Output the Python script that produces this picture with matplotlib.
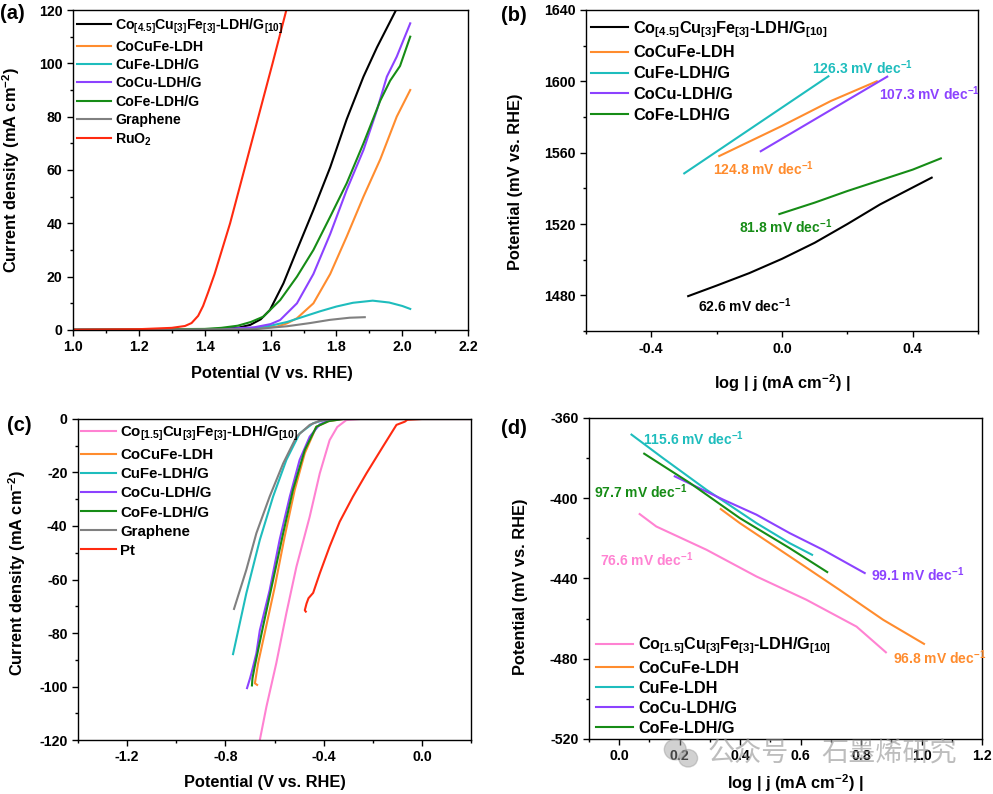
import matplotlib
matplotlib.use("Agg")
import matplotlib.pyplot as plt
from matplotlib.patches import Ellipse
from matplotlib.ticker import MultipleLocator

plt.rcParams["font.family"] = ["Liberation Sans", "DejaVu Sans"]
plt.rcParams["font.weight"] = "bold"
plt.rcParams["axes.labelweight"] = "bold"
plt.rcParams["axes.unicode_minus"] = False
plt.rcParams["mathtext.default"] = "regular"

C_BLACK = "#000000"
C_ORANGE = "#FF8C2E"
C_CYAN = "#1EBDBD"
C_PURPLE = "#8C42FF"
C_GREEN = "#168C16"
C_GRAY = "#808080"
C_RED = "#FF2A10"
C_PINK = "#FF82D2"

LBL_A = r"Co$_{[4.5]}$Cu$_{[3]}$Fe$_{[3]}$-LDH/G$_{[10]}$"
LBL_C = r"Co$_{[1.5]}$Cu$_{[3]}$Fe$_{[3]}$-LDH/G$_{[10]}$"

# ---- (a) OER polarisation curves
a_black_v = [1.0, 1.3, 1.45, 1.50, 1.538, 1.57, 1.598, 1.639, 1.68, 1.73, 1.781, 1.831, 1.882, 1.923, 1.983]
a_black_j = [0.1, 0.2, 0.4, 0.8, 1.9, 4.0, 7.5, 17.5, 30, 45, 61, 79, 95, 106, 120.5]
a_orange_v = [1.0, 1.50, 1.58, 1.619, 1.65, 1.68, 1.73, 1.781, 1.831, 1.882, 1.933, 1.983, 2.024]
a_orange_j = [0.1, 0.3, 0.8, 1.25, 2.5, 4.4, 10, 21, 35, 50, 64, 80, 90]
a_cyan_v = [1.0, 1.50, 1.55, 1.60, 1.65, 1.70, 1.75, 1.80, 1.85, 1.91, 1.96, 2.00, 2.024]
a_cyan_j = [0.1, 0.4, 0.8, 1.6, 3.0, 5.0, 7.0, 8.8, 10.2, 11.0, 10.3, 9.0, 7.9]
a_purple_v = [1.0, 1.45, 1.55, 1.60, 1.629, 1.68, 1.73, 1.781, 1.831, 1.882, 1.923, 1.953, 1.983, 2.024]
a_purple_j = [0.1, 0.3, 1.0, 2.2, 3.75, 10, 21, 36, 52.5, 67.5, 82.5, 95, 102.5, 115]
a_green_v = [1.0, 1.40, 1.45, 1.50, 1.54, 1.578, 1.629, 1.68, 1.73, 1.781, 1.831, 1.882, 1.933, 1.963, 1.993, 2.024]
a_green_j = [0.1, 0.4, 0.8, 1.6, 3.0, 5.0, 11.2, 20, 30, 42.5, 55, 70, 86, 93.5, 99, 110]
a_gray_v = [1.0, 1.55, 1.65, 1.72, 1.78, 1.84, 1.886]
a_gray_j = [0.05, 0.3, 1.4, 2.6, 3.8, 4.6, 4.8]
a_red_v = [1.0, 1.20, 1.30, 1.34, 1.36, 1.38, 1.395, 1.41, 1.43, 1.477, 1.52, 1.563, 1.606, 1.65]
a_red_j = [0.1, 0.3, 0.8, 1.5, 2.6, 5.3, 9.0, 14, 21, 40, 60, 80, 100, 121]

# ---- (b) OER Tafel
b_black_x = [-0.287, -0.2, -0.1, 0.0, 0.1, 0.2, 0.3, 0.4, 0.458]
b_black_y = [1479.6, 1485.5, 1492.5, 1500.5, 1509.5, 1520, 1531, 1540.5, 1546]
b_orange_x = [-0.192, 0.0, 0.15, 0.29]
b_orange_y = [1558.1, 1575, 1589, 1600]
b_cyan_x = [-0.299, 0.142]
b_cyan_y = [1548.4, 1602.8]
b_purple_x = [-0.065, 0.322]
b_purple_y = [1560.8, 1602.6]
b_green_x = [-0.008, 0.1, 0.2, 0.3, 0.4, 0.486]
b_green_y = [1525.6, 1532, 1538.5, 1544.5, 1550.5, 1556.8]
b_slopes = ["62.6", "124.8", "126.3", "107.3", "81.8"]

# ---- (c) HER polarisation curves
c_pink_v = [0.2, -0.25, -0.308, -0.345, -0.376, -0.416, -0.457, -0.511, -0.552, -0.593, -0.633, -0.66]
c_pink_j = [0, 0, -0.4, -3, -7.9, -20.3, -36.5, -55.2, -72.6, -91.3, -107.5, -120]
c_orange_v = [0.2, -0.32, -0.38, -0.43, -0.477, -0.518, -0.559, -0.599, -0.64, -0.667, -0.68, -0.671]
c_orange_j = [0, 0, -0.8, -2.9, -12.8, -26.5, -44, -62.7, -80, -91.3, -98.8, -99.4]
c_cyan_v = [0.2, -0.36, -0.40, -0.443, -0.498, -0.552, -0.606, -0.66, -0.715, -0.769]
c_cyan_j = [0, 0, -0.4, -1.6, -5.4, -15.3, -29, -45.2, -65.2, -87.9]
c_purple_v = [0.2, -0.33, -0.38, -0.416, -0.457, -0.498, -0.538, -0.579, -0.62, -0.66, -0.674, -0.694, -0.70, -0.712]
c_purple_j = [0, 0, -0.5, -2, -6.6, -15.3, -29, -45, -64, -79, -87.6, -95, -97, -100.6]
c_green_v = [0.2, -0.32, -0.38, -0.43, -0.477, -0.525, -0.565, -0.606, -0.647, -0.681, -0.69, -0.692]
c_green_j = [0, 0, -0.8, -2.9, -11.6, -26.5, -42.7, -60.2, -77.6, -92.6, -97, -99.6]
c_gray_v = [0.2, -0.36, -0.389, -0.42, -0.457, -0.511, -0.565, -0.62, -0.674, -0.715, -0.765]
c_gray_j = [0, 0, -0.3, -0.8, -2.2, -6.6, -16.6, -29, -42.7, -56.4, -71]
c_red_v = [0.2, 0.0, -0.06, -0.07, -0.104, -0.159, -0.226, -0.281, -0.335, -0.376, -0.416, -0.443, -0.462, -0.47, -0.477, -0.473]
c_red_j = [0, 0, -0.3, -1, -2.2, -10.3, -20.3, -29, -38.4, -47.7, -57.7, -65, -67, -69, -71.5, -72]

# ---- (d) HER Tafel
d_pink_x = [0.068, 0.123, 0.289, 0.454, 0.619, 0.785, 0.882]
d_pink_y = [-407.9, -414.1, -425.7, -439, -450.6, -464, -476.8]
d_orange_x = [0.336, 0.399, 0.564, 0.729, 0.873, 1.008]
d_orange_y = [-405.4, -412.4, -429, -445.7, -460.6, -472.6]
d_cyan_x = [0.041, 0.145, 0.289, 0.454, 0.564, 0.638]
d_cyan_y = [-368.3, -380, -395.8, -412.4, -422.4, -428.2]
d_purple_x = [0.184, 0.344, 0.454, 0.564, 0.674, 0.812]
d_purple_y = [-389.1, -400.7, -408.2, -417.4, -425.7, -437.3]
d_green_x = [0.083, 0.234, 0.399, 0.564, 0.688]
d_green_y = [-377.8, -392.4, -409.9, -424.9, -436.8]
d_slopes = ["76.6", "96.8", "115.6", "99.1", "97.7"]

LW = 1.5
TICK_FS = 10.2
LABEL_FS = 11.8
NOTE_FS = 10

fig = plt.figure(figsize=(9.93, 7.94), dpi=100)
ax_a = fig.add_axes([0.0735, 0.5844, 0.398, 0.403])
ax_b = fig.add_axes([0.590, 0.583, 0.395, 0.4045])
ax_c = fig.add_axes([0.0785, 0.068, 0.396, 0.4043])
ax_d = fig.add_axes([0.593, 0.0693, 0.396, 0.4043])


def style(ax):
    for s in ax.spines.values():
        s.set_linewidth(1.0)
    ax.tick_params(which="both", direction="out", top=False, right=False, labelsize=TICK_FS, width=1.0)
    ax.tick_params(which="major", length=4)
    ax.tick_params(which="minor", length=2.5)


def tafel_label(ax, x, y, slope, color):
    ax.text(x, y, slope + r" mV dec$^{-1}$", color=color, fontsize=NOTE_FS, fontweight="bold",
            ha="left", va="center")


# (a)
ax_a.plot(a_black_v, a_black_j, color=C_BLACK, lw=LW, label=LBL_A)
ax_a.plot(a_orange_v, a_orange_j, color=C_ORANGE, lw=LW, label="CoCuFe-LDH")
ax_a.plot(a_cyan_v, a_cyan_j, color=C_CYAN, lw=LW, label="CuFe-LDH/G")
ax_a.plot(a_purple_v, a_purple_j, color=C_PURPLE, lw=LW, label="CoCu-LDH/G")
ax_a.plot(a_green_v, a_green_j, color=C_GREEN, lw=LW, label="CoFe-LDH/G")
ax_a.plot(a_gray_v, a_gray_j, color=C_GRAY, lw=LW, label="Graphene")
ax_a.plot(a_red_v, a_red_j, color=C_RED, lw=LW, label=r"RuO$_2$")
ax_a.set_xlim(1.0, 2.2)
ax_a.set_ylim(0, 120)
ax_a.xaxis.set_major_locator(MultipleLocator(0.2))
ax_a.xaxis.set_minor_locator(MultipleLocator(0.1))
ax_a.yaxis.set_major_locator(MultipleLocator(20))
ax_a.yaxis.set_minor_locator(MultipleLocator(10))
ax_a.set_xlabel("Potential (V vs. RHE)", fontsize=LABEL_FS)
ax_a.set_ylabel(r"Current density (mA cm$^{-2}$)", fontsize=LABEL_FS)
ax_a.xaxis.set_label_coords(0.504, -0.1125)
ax_a.yaxis.set_label_coords(-0.13, 0.5)
style(ax_a)
ax_a.legend(loc="upper left", bbox_to_anchor=(0.01, 0.98), frameon=False, fontsize=10.2,
            handlelength=2.4, handletextpad=0.3, labelspacing=0.3, borderpad=0, borderaxespad=0)

# (b)
ax_b.plot(b_black_x, b_black_y, color=C_BLACK, lw=LW, label=LBL_A)
ax_b.plot(b_orange_x, b_orange_y, color=C_ORANGE, lw=LW, label="CoCuFe-LDH")
ax_b.plot(b_cyan_x, b_cyan_y, color=C_CYAN, lw=LW, label="CuFe-LDH/G")
ax_b.plot(b_purple_x, b_purple_y, color=C_PURPLE, lw=LW, label="CoCu-LDH/G")
ax_b.plot(b_green_x, b_green_y, color=C_GREEN, lw=LW, label="CoFe-LDH/G")
tafel_label(ax_b, -0.256, 1474, b_slopes[0], C_BLACK)
tafel_label(ax_b, -0.212, 1551, b_slopes[1], C_ORANGE)
tafel_label(ax_b, 0.091, 1607.5, b_slopes[2], C_CYAN)
tafel_label(ax_b, 0.298, 1593.2, b_slopes[3], C_PURPLE)
tafel_label(ax_b, -0.131, 1518.3, b_slopes[4], C_GREEN)
ax_b.set_xlim(-0.6, 0.6)
ax_b.set_ylim(1460, 1640)
ax_b.set_xticks([-0.4, 0.0, 0.4])
ax_b.xaxis.set_minor_locator(MultipleLocator(0.2))
ax_b.set_yticks([1480, 1520, 1560, 1600, 1640])
ax_b.yaxis.set_minor_locator(MultipleLocator(20))
ax_b.set_xlabel(r"log | j (mA cm$^{-2}$) |", fontsize=LABEL_FS)
ax_b.set_ylabel("Potential (mV vs. RHE)", fontsize=LABEL_FS)
ax_b.xaxis.set_label_coords(0.5, -0.128)
ax_b.yaxis.set_label_coords(-0.161, 0.464)
style(ax_b)
ax_b.legend(loc="upper left", bbox_to_anchor=(0.012, 0.972), frameon=False, fontsize=11.8,
            handlelength=2.3, handletextpad=0.3, labelspacing=0.36, borderpad=0, borderaxespad=0)

# (c)
ax_c.plot(c_pink_v, c_pink_j, color=C_PINK, lw=LW, label=LBL_C)
ax_c.plot(c_orange_v, c_orange_j, color=C_ORANGE, lw=LW, label="CoCuFe-LDH")
ax_c.plot(c_cyan_v, c_cyan_j, color=C_CYAN, lw=LW, label="CuFe-LDH/G")
ax_c.plot(c_purple_v, c_purple_j, color=C_PURPLE, lw=LW, label="CoCu-LDH/G")
ax_c.plot(c_green_v, c_green_j, color=C_GREEN, lw=LW, label="CoFe-LDH/G")
ax_c.plot(c_gray_v, c_gray_j, color=C_GRAY, lw=LW, label="Graphene")
ax_c.plot(c_red_v, c_red_j, color=C_RED, lw=LW, label="Pt")
ax_c.set_xlim(-1.4, 0.2)
ax_c.set_ylim(-120, 0)
ax_c.set_xticks([-1.2, -0.8, -0.4, 0.0])
ax_c.xaxis.set_minor_locator(MultipleLocator(0.2))
ax_c.yaxis.set_major_locator(MultipleLocator(20))
ax_c.yaxis.set_minor_locator(MultipleLocator(10))
ax_c.set_xlabel("Potential (V vs. RHE)", fontsize=LABEL_FS)
ax_c.set_ylabel(r"Current density (mA cm$^{-2}$)", fontsize=LABEL_FS)
ax_c.xaxis.set_label_coords(0.476, -0.109)
ax_c.yaxis.set_label_coords(-0.127, 0.52)
style(ax_c)
ax_c.legend(loc="upper left", bbox_to_anchor=(0.008, 0.985), frameon=False, fontsize=10.8,
            handlelength=2.33, handletextpad=0.27, labelspacing=0.34, borderpad=0, borderaxespad=0)

# (d)
ax_d.plot(d_pink_x, d_pink_y, color=C_PINK, lw=LW, label=LBL_C)
ax_d.plot(d_orange_x, d_orange_y, color=C_ORANGE, lw=LW, label="CoCuFe-LDH")
ax_d.plot(d_cyan_x, d_cyan_y, color=C_CYAN, lw=LW, label="CuFe-LDH")
ax_d.plot(d_purple_x, d_purple_y, color=C_PURPLE, lw=LW, label="CoCu-LDH/G")
ax_d.plot(d_green_x, d_green_y, color=C_GREEN, lw=LW, label="CoFe-LDH/G")
tafel_label(ax_d, -0.064, -430.7, d_slopes[0], C_PINK)
tafel_label(ax_d, 0.904, -479.3, d_slopes[1], C_ORANGE)
tafel_label(ax_d, 0.079, -370.5, d_slopes[2], C_CYAN)
tafel_label(ax_d, 0.832, -438.2, d_slopes[3], C_PURPLE)
tafel_label(ax_d, -0.084, -396.9, d_slopes[4], C_GREEN)
ax_d.set_xlim(-0.1, 1.2)
ax_d.set_ylim(-520, -360)
ax_d.xaxis.set_major_locator(MultipleLocator(0.2))
ax_d.xaxis.set_minor_locator(MultipleLocator(0.1))
ax_d.yaxis.set_major_locator(MultipleLocator(40))
ax_d.yaxis.set_minor_locator(MultipleLocator(20))
ax_d.set_xlabel(r"log | j (mA cm$^{-2}$) |", fontsize=LABEL_FS)
ax_d.set_ylabel("Potential (mV vs. RHE)", fontsize=LABEL_FS)
ax_d.xaxis.set_label_coords(0.524, -0.104)
ax_d.yaxis.set_label_coords(-0.155, 0.474)
style(ax_d)
ax_d.legend(loc="lower left", bbox_to_anchor=(0.018, 0.01), frameon=False, fontsize=11.7,
            handlelength=2.3, handletextpad=0.3, labelspacing=0.3, borderpad=0, borderaxespad=0)

# panel letters
for x, y, t in [(0.0, 0.983, "(a)"), (0.505, 0.980, "(b)"), (0.007, 0.4635, "(c)"), (0.505, 0.4597, "(d)")]:
    fig.text(x, y, t, fontsize=14.5, fontweight="bold", ha="left", va="center")

# watermark
wm = "#9a9a9a"
fig.patches.append(Ellipse((0.680, 0.056), 0.022, 0.026, transform=fig.transFigure, color=wm, alpha=0.45))
fig.patches.append(Ellipse((0.693, 0.045), 0.019, 0.022, transform=fig.transFigure, color=wm, alpha=0.45))
fig.text(0.713, 0.050, "公众号", fontsize=19.5, color=wm, alpha=0.65, ha="left", va="center",
         family=["Noto Sans CJK SC", "DejaVu Sans"], fontweight="normal")
fig.text(0.827, 0.050, "石墨烯研究", fontsize=19.5, color=wm, alpha=0.65, ha="left", va="center",
         family=["Noto Sans CJK SC", "DejaVu Sans"], fontweight="normal")

fig.savefig("out.png", dpi=100)
